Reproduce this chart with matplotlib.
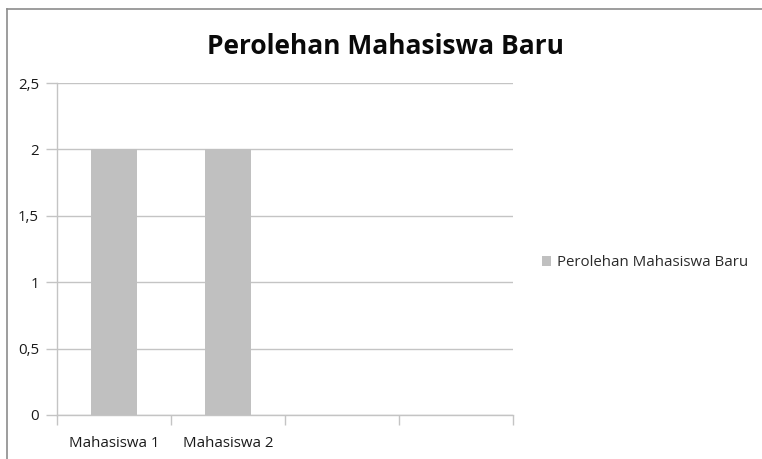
import numpy as np
import matplotlib
matplotlib.use("Agg")
import matplotlib.pyplot as plt
from matplotlib.lines import Line2D

categories = ["Mahasiswa 1", "Mahasiswa 2", "", ""]
values = [2, 2]
yticks = [0, 0.5, 1, 1.5, 2, 2.5]
ytick_labels = ["0", "0,5", "1", "1,5", "2", "2,5"]
title = "Perolehan Mahasiswa Baru"
series_name = "Perolehan Mahasiswa Baru"

plt.rcParams["font.family"] = ["Open Sans", "DejaVu Sans"]

W, H = 762, 459
fig = plt.figure(figsize=(W / 100, H / 100), dpi=100)

# plot area in pixels
left, right, top, bottom = 57, 513, 83, 415
ax = fig.add_axes([left / W, 1 - bottom / H, (right - left) / W, (bottom - top) / H])

grid_c = "#c4c4c4"
text_c = "#1a1a1a"
ax.bar(np.arange(len(values)), values, width=0.4, color="#c0c0c0", zorder=3,
       label=series_name)

ax.set_xlim(-0.5, len(categories) - 0.5)
ax.set_ylim(0, 2.5)
ax.set_yticks(yticks)
ax.set_yticklabels(ytick_labels)
ax.set_xticks(np.arange(len(categories)))
ax.set_xticklabels(categories)
ax.set_xticks(np.arange(len(categories) + 1) - 0.5, minor=True)
ax.tick_params(axis="x", which="major", length=0, pad=15, labelsize=10.8, labelcolor=text_c)
ax.tick_params(axis="x", which="minor", length=7, width=1, color=grid_c, direction="out")
ax.tick_params(axis="y", length=8, width=1, color=grid_c, pad=5, labelsize=10.8, labelcolor=text_c)

ax.grid(axis="y", color=grid_c, linewidth=1, zorder=0)
for s in ["top", "right"]:
    ax.spines[s].set_visible(False)
for s in ["left", "bottom"]:
    ax.spines[s].set_color(grid_c)
    ax.spines[s].set_linewidth(1)

fig.text(385 / W, 1 - 46 / H, title, ha="center", va="center",
         fontsize=19, fontweight="bold", color="#0a0a0a")

ax.legend(loc="center left", bbox_to_anchor=(528 / W, 1 - 263 / H),
          bbox_transform=fig.transFigure, frameon=False, fontsize=10.8,
          handlelength=0.6, handleheight=0.6, handletextpad=0.45,
          labelcolor="#2a2a2a")

# chart border (top and left visible in the crop)
fig.add_artist(Line2D([6.5 / W, 1], [1 - 8.5 / H, 1 - 8.5 / H], color="#8c8c8c", linewidth=1.2))
fig.add_artist(Line2D([6.5 / W, 6.5 / W], [0, 1 - 8.5 / H], color="#8c8c8c", linewidth=1.2))

fig.savefig("out.png", dpi=100)
